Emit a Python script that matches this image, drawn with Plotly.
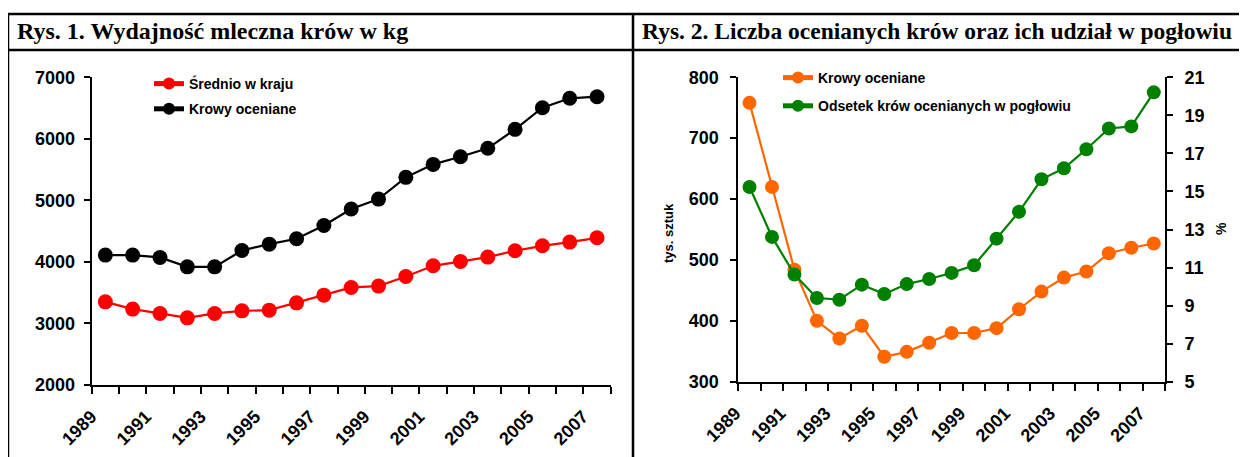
import plotly.graph_objects as go

# ---- data ----
years = list(range(1989, 2008))
srednio_w_kraju = [3351, 3233, 3163, 3091, 3163, 3205, 3216, 3335, 3460, 3585,
                   3607, 3764, 3937, 4008, 4078, 4181, 4262, 4322, 4392]
krowy_oceniane_kg = [4111, 4111, 4073, 3920, 3920, 4185, 4289, 4376, 4593, 4859,
                     5021, 5374, 5585, 5709, 5846, 6154, 6506, 6659, 6685]
krowy_oceniane_tys = [758, 620, 484, 400, 371, 392, 341, 349, 364, 380,
                      380, 388, 419, 448, 471, 481, 511, 520, 527]
odsetek_proc = [15.23, 12.61, 10.63, 9.40, 9.31, 10.10, 9.61, 10.13, 10.40, 10.72,
                11.12, 12.52, 13.93, 15.64, 16.22, 17.22, 18.31, 18.42, 20.21]
label_years = years[::2]
label_text = [str(y) for y in label_years]
boundaries = [y - 0.5 for y in years] + [years[-1] + 0.5]

title1 = "Rys. 1. Wydajność mleczna krów w kg"
title2 = "Rys. 2. Liczba ocenianych krów oraz ich udział w pogłowiu"

W, H = 1247, 457
OFF = 8  # page body margin of the html page
def px(x):
    return (x - OFF) / W
def py(y):
    return 1 - (y - OFF) / H

SANS = "Liberation Sans, Arial, sans-serif"
SERIF = "Liberation Serif, Times New Roman, serif"
tickfont = dict(family=SANS, size=18, color="black", weight="bold")

fig = go.Figure()

fig.add_trace(go.Scatter(x=years, y=srednio_w_kraju, name="Średnio w kraju",
                         mode="lines+markers", xaxis="x", yaxis="y",
                         line=dict(color="#ff0000", width=2.2),
                         marker=dict(color="#ff0000", size=15),
                         legend="legend", legendgroup="a"))
fig.add_trace(go.Scatter(x=years, y=krowy_oceniane_kg, name="Krowy oceniane",
                         mode="lines+markers", xaxis="x", yaxis="y",
                         line=dict(color="#000000", width=2.2),
                         marker=dict(color="#000000", size=15),
                         legend="legend", legendgroup="b"))
fig.add_trace(go.Scatter(x=years, y=krowy_oceniane_tys, name="Krowy oceniane",
                         mode="lines+markers", xaxis="x2", yaxis="y2",
                         line=dict(color="#ff6600", width=2.2),
                         marker=dict(color="#ff6600", size=14),
                         legend="legend2", legendgroup="c"))
fig.add_trace(go.Scatter(x=years, y=odsetek_proc, name="Odsetek krów ocenianych w pogłowiu",
                         mode="lines+markers", xaxis="x2", yaxis="y3",
                         line=dict(color="#008000", width=2.2),
                         marker=dict(color="#008000", size=14),
                         legend="legend2", legendgroup="d"))

xcommon = dict(range=[years[0] - 0.5, years[-1] + 0.5], tickmode="array",
               tickvals=label_years, ticktext=label_text, tickangle=-45,
               ticks="", showline=True, linewidth=2, linecolor="black",
               showgrid=False, zeroline=False, tickfont=tickfont,
               ticklabelstandoff=12, ticklabelshift=-14, automargin=False,
               minor=dict(tickmode="array", tickvals=boundaries, ticks="outside",
                          ticklen=7, tickwidth=2, tickcolor="black", showgrid=False))
ycommon = dict(ticks="outside", ticklen=6, tickwidth=2, tickcolor="black",
               showline=True, linewidth=2, linecolor="black", showgrid=False,
               zeroline=False, tickfont=tickfont, automargin=False)

fig.update_layout(
    width=W, height=H, margin=dict(l=0, r=0, t=0, b=0, autoexpand=False),
    paper_bgcolor="white", plot_bgcolor="white",
    xaxis=dict(domain=[px(91.7), px(610.7)], anchor="y", **xcommon),
    yaxis=dict(domain=[py(385), py(77.3)], anchor="x", range=[2000, 7000],
               dtick=1000, ticklabelstandoff=5, **ycommon),
    xaxis2=dict(domain=[px(738.3), px(1165)], anchor="y2", **xcommon),
    yaxis2=dict(domain=[py(381.7), py(77.3)], anchor="x2", range=[300, 800],
                dtick=100, ticklabelstandoff=8, **ycommon),
    yaxis3=dict(overlaying="y2", anchor="x2", side="right", range=[5, 21],
                tick0=5, dtick=2, ticklabelstandoff=8, **ycommon),
    legend=dict(x=px(149), y=py(68), xanchor="left", yanchor="top",
                bgcolor="rgba(0,0,0,0)", tracegroupgap=4, itemsizing="constant",
                font=dict(family=SANS, size=14, color="black", weight="bold")),
    legend2=dict(x=px(778), y=py(62), xanchor="left", yanchor="top",
                 bgcolor="rgba(0,0,0,0)", tracegroupgap=7, itemsizing="constant",
                 font=dict(family=SANS, size=14, color="black", weight="bold")),
    showlegend=True,
)

annots = [
    dict(text=title1, x=px(15), y=py(31), xanchor="left", yanchor="middle",
         font=dict(family=SERIF, size=24, color="black", weight="bold")),
    dict(text=title2, x=px(640), y=py(31), xanchor="left", yanchor="middle",
         font=dict(family=SERIF, size=23.5, color="black", weight="bold")),
    dict(text="tys. sztuk", x=px(668), y=py(233), textangle=-90,
         xanchor="center", yanchor="middle",
         font=dict(family=SANS, size=13, color="black", weight="bold")),
    dict(text="%", x=px(1221), y=py(229), textangle=-90,
         xanchor="center", yanchor="middle",
         font=dict(family=SANS, size=14, color="black", weight="bold")),
]
for a in annots:
    fig.add_annotation(xref="paper", yref="paper", showarrow=False, **a)

border = dict(color="black", width=2.5)
for (x0, y0, x1, y1) in [(8, 14, W + OFF, 14), (8, 50, W + OFF, 50),
                         (8, 14, 8, H + OFF), (633, 14, 633, H + OFF)]:
    fig.add_shape(type="line", xref="paper", yref="paper",
                  x0=px(x0), y0=py(y0), x1=px(x1), y1=py(y1), line=border)

fig.write_html("out.html")
